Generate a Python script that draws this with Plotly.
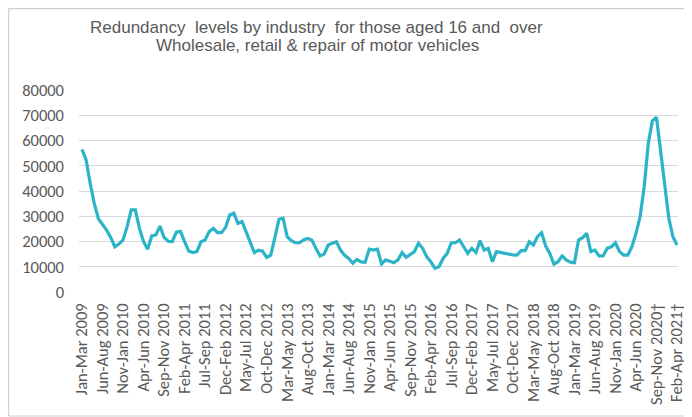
import plotly.graph_objects as go

months = ["Jan", "Feb", "Mar", "Apr", "May", "Jun", "Jul", "Aug", "Sep", "Oct", "Nov", "Dec"]

# rolling three-month periods Jan-Mar 2009 .. Feb-Apr 2021
periods = []
for i in range(146):
    m0 = i % 12
    y0 = 2009 + i // 12
    m2 = (m0 + 2) % 12
    y2 = y0 + (1 if m0 + 2 >= 12 else 0)
    lab = f"{months[m0]}-{months[m2]} {y2}"
    periods.append(lab)

dagger_periods = ["Sep-Nov 2020", "Feb-Apr 2021"]
periods = [p + "\u2020" if p in dagger_periods else p for p in periods]

redundancies = [
    56500, 52300, 43000, 35000, 29000, 26900, 24500, 21600, 17900, 19000,
    20600, 25900, 32500, 32500, 25200, 19900, 16900, 22200, 22600, 26100,
    21600, 20100, 20000, 23700, 24000, 19900, 16200, 15600, 16000, 19900,
    20600, 23900, 25200, 23500, 23500, 25600, 30500, 31200, 27200, 27900,
    23900, 19900, 15600, 16600, 16200, 13700, 14600, 21500, 28800, 29200,
    21900, 20300, 19500, 19500, 20600, 21200, 20600, 17300, 14300, 15000,
    18600, 19300, 19900, 16600, 14500, 13300, 11400, 12900, 11900, 11800,
    17000, 16600, 17000, 11100, 12700, 12200, 11600, 12700, 15600, 13700,
    15000, 16000, 19300, 17300, 14000, 12000, 9400, 10000, 13300, 15300,
    19500, 19500, 20600, 17700, 15300, 17300, 15600, 20300, 16600, 17300,
    12000, 16000, 15600, 15200, 14900, 14700, 14600, 16400, 16400, 19900,
    18600, 21900, 23500, 18200, 15300, 11000, 12000, 14300, 12700, 11800,
    11600, 20600, 21500, 23200, 16000, 16600, 14300, 14300, 17300, 17900,
    19500, 16000, 14600, 14600, 17900, 23200, 29800, 41700, 58900, 67800,
    69200, 56200, 41700, 29200, 21900, 18600,
]

tick_labels = periods[::5]
y_ticks = [0, 10000, 20000, 30000, 40000, 50000, 60000, 70000, 80000]
title_lines = [
    "Redundancy  levels by industry  for those aged 16 and  over",
    "Wholesale, retail &amp; repair of motor vehicles",
]

fig = go.Figure()
fig.add_trace(go.Scatter(
    x=periods, y=redundancies, mode="lines",
    line=dict(color="#2BB4C8", width=3.2, shape="linear"),
    hoverinfo="skip",
))

tick_font = dict(family="Calibri, Carlito, Lato, sans-serif", size=16.5, color="#595959")

# the page body adds an 8px offset, so layout is shifted up/left by 8px
OFF = 8
PW, PH = 599, 202
L, T = 79 - OFF, 90 - OFF
W, H = 692, 417

def px_x(px):
    return (px - OFF - L) / PW

def px_y(py):
    return (T + PH - (py - OFF)) / PH

title_font = dict(family="Liberation Sans, Arial, sans-serif", size=17, color="#595959")
annotations = [
    dict(text=title_lines[0], xref="paper", yref="paper", x=px_x(316), y=px_y(28),
         xanchor="center", yanchor="middle", showarrow=False, font=title_font),
    dict(text=title_lines[1], xref="paper", yref="paper", x=px_x(317), y=px_y(45),
         xanchor="center", yanchor="middle", showarrow=False, font=title_font),
]

border = dict(color="#D0D0D0", width=1.2)
shapes = [
    dict(type="line", xref="paper", yref="paper", x0=px_x(8.6), x1=px_x(8.6),
         y0=px_y(416), y1=px_y(8.6), line=border, layer="above"),
    dict(type="line", xref="paper", yref="paper", x0=px_x(8.6), x1=px_x(700),
         y0=px_y(8.6), y1=px_y(8.6), line=border, layer="above"),
    dict(type="line", xref="paper", yref="paper", x0=px_x(8.6), x1=px_x(700),
         y0=px_y(416), y1=px_y(416), line=border, layer="above"),
]

fig.update_layout(
    width=W, height=H,
    margin=dict(l=L, r=W - L - PW, t=T, b=H - T - PH),
    paper_bgcolor="white", plot_bgcolor="white",
    showlegend=False,
    xaxis=dict(
        type="category", range=[-0.73, 145.24],
        tickmode="array", tickvals=tick_labels, ticktext=tick_labels,
        tickangle=-90, tickfont=tick_font, showgrid=False, zeroline=False,
        showline=False, ticks="", ticklabelstandoff=7,
    ),
    yaxis=dict(
        range=[0, 80000], tickmode="array", tickvals=y_ticks,
        ticktext=[str(v) for v in y_ticks],
        tickfont=tick_font, showgrid=True, gridcolor="#D9D9D9", gridwidth=1,
        zeroline=False, showline=False, ticks="", ticklabelstandoff=14,
    ),
    annotations=annotations,
    shapes=shapes,
)

fig.write_html("out.html")
